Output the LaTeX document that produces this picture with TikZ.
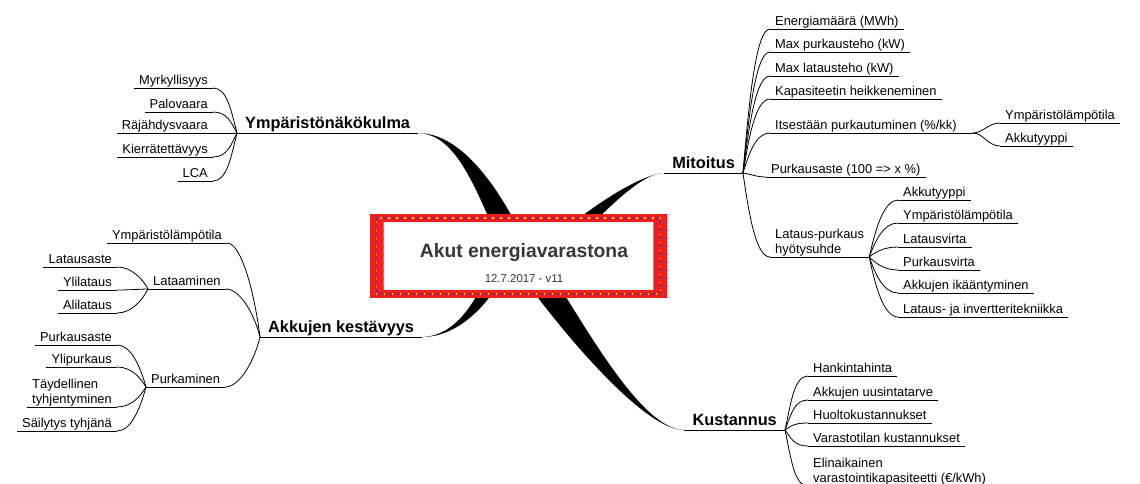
\documentclass[tikz,border=0pt]{standalone}
\usepackage{fontspec}
\setmainfont{Liberation Sans}
\usepackage{tikz}
\usetikzlibrary{calc}
\definecolor{boxred}{RGB}{242,30,30}
\definecolor{dotblue}{RGB}{80,60,150}
\definecolor{dotyellow}{RGB}{250,200,70}
\definecolor{boxgreen}{RGB}{110,180,60}
\definecolor{titlegray}{RGB}{55,55,55}
\tikzset{
  leaf/.style={font={\fontsize{12.9}{15.5}\selectfont}, inner xsep=5pt, inner ysep=0.6pt, text height=9.4pt, text depth=2.8pt},
  leaftwo/.style={font={\fontsize{12.9}{15.5}\selectfont}, inner xsep=5pt, inner ysep=0.6pt, align=left},
  topic/.style={font={\fontsize{16.3}{18}\selectfont\bfseries}, inner xsep=8pt, inner ysep=1pt, text height=11.8pt, text depth=3pt},
  uline/.style={line width=0.9pt},
  twig/.style={line width=0.8pt}}

\begin{document}
\begin{tikzpicture}[x=1pt,y=-1pt]
\useasboundingbox (0,0) rectangle (1140,484);
% main topics
\node[topic, anchor=south west] (ymp) at (237,133) {Ympäristönäkökulma};
\node[topic, anchor=south west] (akk) at (260,337) {Akkujen kestävyys};
\node[topic, anchor=south east] (mit) at (743,173) {Mitoitus};
\node[topic, anchor=south east] (kus) at (785,430) {Kustannus};
\draw[uline] (ymp.south west) -- (ymp.south east);
\draw[uline] (akk.south west) -- (akk.south east);
\draw[uline] (mit.south west) -- (mit.south east);
\draw[uline] (kus.south west) -- (kus.south east);
% tapered branches, ending under the centre box
\coordinate (yEnd) at (518,256);
\coordinate (mEnd) at (548,256);
\coordinate (aEnd) at (505,256);
\coordinate (kEnd) at (524,256);
\fill (ymp.south east) .. controls +(42,0) and +(-30,-70) .. ($(yEnd)+(13,0)$) -- ($(yEnd)+(-13,0)$) .. controls +(-30,-70) and +(38,1.5) .. (ymp.south east);
\fill (mit.south west) .. controls +(-25,0) and +(40,-40) .. ($(mEnd)+(12.5,0)$) -- ($(mEnd)+(-12.5,0)$) .. controls +(40,-40) and +(-27,1.5) .. (mit.south west);
\fill (akk.south east) .. controls +(35,0) and +(-22,50) .. ($(aEnd)+(8.6,0)$) -- ($(aEnd)+(-8.6,0)$) .. controls +(-22,50) and +(33,-1.5) .. (akk.south east);
\fill (kus.south west) .. controls +(-45,0) and +(40,60) .. ($(kEnd)+(16,0)$) -- ($(kEnd)+(-16,0)$) .. controls +(40,60) and +(-42,1.5) .. (kus.south west);
% centre box
\node[fill=boxred, minimum width=297pt, minimum height=84pt, inner sep=0pt] (ctr) at (518.5,256) {};
\fill[white] ($(ctr.north west)+(13,8)$) rectangle ($(ctr.south east)+(-13,-8)$);
\draw[boxgreen, line width=0.8pt] ($(ctr.north west)+(13.4,8)$) -- ($(ctr.south west)+(13.4,-8)$);
\draw[boxgreen, line width=0.8pt] ($(ctr.north east)+(-13.4,8)$) -- ($(ctr.south east)+(-13.4,-8)$);
\draw[dotblue, line width=1.5pt, dash pattern=on 2pt off 6pt] ($(ctr.north west)+(6.5,4)$) rectangle ($(ctr.south east)+(-6.5,-4)$);
\draw[dotyellow, line width=1.5pt, dash pattern=on 1.5pt off 6.5pt, dash phase=4pt] ($(ctr.north west)+(6.5,4)$) rectangle ($(ctr.south east)+(-6.5,-4)$);
\node[font={\fontsize{19.3}{22}\selectfont\bfseries}, text=titlegray] (title) at (524,253) {Akut energiavarastona};
\node[font={\fontsize{11.4}{13}\selectfont}, text=titlegray] (ver) at (524,279) {12.7.2017 - v11};
% Ympäristönäkökulma
\node[leaf, anchor=south east] (myrk) at (213,88) {Myrkyllisyys};
\node[leaf, anchor=south east] (palo) at (213,112) {Palovaara};
\node[leaf, anchor=south east] (raja) at (213,133) {Räjähdysvaara};
\node[leaf, anchor=south east] (kierr) at (213,157) {Kierrätettävyys};
\node[leaf, anchor=south east] (lca) at (213,181) {LCA};
\draw[uline] (myrk.south west) -- (myrk.south east);
\draw[uline] (palo.south west) -- (palo.south east);
\draw[uline] (raja.south west) -- (raja.south east);
\draw[uline] (kierr.south west) -- (kierr.south east);
\draw[uline] (lca.south west) -- (lca.south east);
\draw[twig] (ymp.south west) .. controls +(-6,-23) and +(14,0) .. (myrk.south east);
\draw[twig] (ymp.south west) .. controls +(-6,-11) and +(14,0) .. (palo.south east);
\draw[twig] (ymp.south west) -- (raja.south east);
\draw[twig] (ymp.south west) .. controls +(-6,12) and +(14,0) .. (kierr.south east);
\draw[twig] (ymp.south west) .. controls +(-6,24) and +(14,0) .. (lca.south east);
% Akkujen kestävyys
\node[leaf, anchor=south east] (ympL) at (227,243) {Ympäristölämpötila};
\node[leaf, anchor=south west] (lat) at (148,289) {Lataaminen};
\node[leaf, anchor=south west] (purk) at (146,387) {Purkaminen};
\draw[uline] (ympL.south west) -- (ympL.south east);
\draw[uline] (lat.south west) -- (lat.south east);
\draw[uline] (purk.south west) -- (purk.south east);
\draw[twig] (akk.south west) .. controls +(-6,-47) and +(14,0) .. (ympL.south east);
\draw[twig] (akk.south west) .. controls +(-6,-24) and +(14,0) .. (lat.south east);
\draw[twig] (akk.south west) .. controls +(-6,25) and +(14,0) .. (purk.south east);
\node[leaf, anchor=south east] (latA) at (117,267) {Latausaste};
\node[leaf, anchor=south east] (yli) at (117,290) {Ylilataus};
\node[leaf, anchor=south east] (ali) at (117,313) {Alilataus};
\draw[uline] (latA.south west) -- (latA.south east);
\draw[uline] (yli.south west) -- (yli.south east);
\draw[uline] (ali.south west) -- (ali.south east);
\draw[twig] (lat.south west) .. controls +(-6,-11) and +(14,0) .. (latA.south east);
\draw[twig] (lat.south west) .. controls +(-6,0) and +(14,0) .. (yli.south east);
\draw[twig] (lat.south west) .. controls +(-6,12) and +(14,0) .. (ali.south east);
\node[leaf, anchor=south east] (purkA) at (117,345) {Purkausaste};
\node[leaf, anchor=south east] (ylip) at (117,367) {Ylipurkaus};
\node[leaftwo, anchor=south east] (tayd) at (117,407) {Täydellinen\\tyhjentyminen};
\node[leaf, anchor=south east] (sail) at (117,431) {Säilytys tyhjänä};
\draw[uline] (purkA.south west) -- (purkA.south east);
\draw[uline] (ylip.south west) -- (ylip.south east);
\draw[uline] (tayd.south west) -- (tayd.south east);
\draw[uline] (sail.south west) -- (sail.south east);
\draw[twig] (purk.south west) .. controls +(-6,-21) and +(14,0) .. (purkA.south east);
\draw[twig] (purk.south west) .. controls +(-6,-10) and +(14,0) .. (ylip.south east);
\draw[twig] (purk.south west) .. controls +(-6,10) and +(14,0) .. (tayd.south east);
\draw[twig] (purk.south west) .. controls +(-6,22) and +(14,0) .. (sail.south east);
% Mitoitus
\node[leaf, anchor=south west] (ener) at (770,29) {Energiamäärä (MWh)};
\node[leaf, anchor=south west] (maxp) at (770,52) {Max purkausteho (kW)};
\node[leaf, anchor=south west] (maxl) at (770,76) {Max lataus­teho (kW)};
\node[leaf, anchor=south west] (kapa) at (770,99) {Kapasiteetin heikkeneminen};
\node[leaf, anchor=south west] (itse) at (770,133) {Itsestään purkautuminen (\%/kk)};
\coordinate (itseJ) at (973,133);
\node[leaf, anchor=south west] (purkM) at (766,177) {Purkausaste (100 => x \%)};
\node[leaftwo, anchor=south west] (lp) at (770,257) {Lataus-purkaus\\hyötysuhde};
\draw[uline] (ener.south west) -- (ener.south east);
\draw[uline] (maxp.south west) -- (maxp.south east);
\draw[uline] (maxl.south west) -- (maxl.south east);
\draw[uline] (kapa.south west) -- (kapa.south east);
\draw[uline] (itse.south west) -- (itseJ);
\draw[uline] (purkM.south west) -- (purkM.south east);
\draw[uline] (lp.south west) -- (lp.south east);
\draw[twig] (mit.south east) .. controls +(6,-72) and +(-14,0) .. (ener.south west);
\draw[twig] (mit.south east) .. controls +(6,-60) and +(-14,0) .. (maxp.south west);
\draw[twig] (mit.south east) .. controls +(6,-48) and +(-14,0) .. (maxl.south west);
\draw[twig] (mit.south east) .. controls +(6,-37) and +(-14,0) .. (kapa.south west);
\draw[twig] (mit.south east) .. controls +(6,-20) and +(-14,0) .. (itse.south west);
\draw[twig] (mit.south east) .. controls +(8,1) and +(-10,0) .. (purkM.south west);
\draw[twig] (mit.south east) .. controls +(6,42) and +(-14,0) .. (lp.south west);
\node[leaf, anchor=south west] (ympR) at (1000,123) {Ympäristölämpötila};
\node[leaf, anchor=south west] (akkR) at (1000,146) {Akkutyyppi};
\draw[uline] (ympR.south west) -- (ympR.south east);
\draw[uline] (akkR.south west) -- (akkR.south east);
\draw[twig] (itseJ) .. controls +(10,0) and +(-12,0) .. (ympR.south west);
\draw[twig] (itseJ) .. controls +(10,0) and +(-12,0) .. (akkR.south west);
\node[leaf, anchor=south west] (akkT) at (898,200) {Akkutyyppi};
\node[leaf, anchor=south west] (ympT) at (898,223) {Ympäristölämpötila};
\node[leaf, anchor=south west] (latv) at (898,247) {Latausvirta};
\node[leaf, anchor=south west] (purv) at (898,270) {Purkausvirta};
\node[leaf, anchor=south west] (ikaa) at (898,293) {Akkujen ikääntyminen};
\node[leaf, anchor=south west] (tekn) at (898,317) {Lataus- ja invertteritekniikka};
\draw[uline] (akkT.south west) -- (akkT.south east);
\draw[uline] (ympT.south west) -- (ympT.south east);
\draw[uline] (latv.south west) -- (latv.south east);
\draw[uline] (purv.south west) -- (purv.south east);
\draw[uline] (ikaa.south west) -- (ikaa.south east);
\draw[uline] (tekn.south west) -- (tekn.south east);
\draw[twig] (lp.south east) .. controls +(6,-28) and +(-14,0) .. (akkT.south west);
\draw[twig] (lp.south east) .. controls +(6,-17) and +(-14,0) .. (ympT.south west);
\draw[twig] (lp.south east) .. controls +(6,-5) and +(-14,0) .. (latv.south west);
\draw[twig] (lp.south east) .. controls +(6,6) and +(-14,0) .. (purv.south west);
\draw[twig] (lp.south east) .. controls +(6,18) and +(-14,0) .. (ikaa.south west);
\draw[twig] (lp.south east) .. controls +(6,30) and +(-14,0) .. (tekn.south west);
% Kustannus
\node[leaf, anchor=south west] (hank) at (808,376) {Hankintahinta};
\node[leaf, anchor=south west] (uusi) at (808,400) {Akkujen uusintatarve};
\node[leaf, anchor=south west] (huol) at (808,423) {Huoltokustannukset};
\node[leaf, anchor=south west] (vara) at (808,446) {Varastotilan kustannukset};
\node[leaftwo, anchor=south west] (elin) at (808,486) {Elinaikainen\\varastointikapasiteetti (€/kWh)};
\draw[uline] (hank.south west) -- (hank.south east);
\draw[uline] (uusi.south west) -- (uusi.south east);
\draw[uline] (huol.south west) -- (huol.south east);
\draw[uline] (vara.south west) -- (vara.south east);
\draw[uline] (elin.south west) -- (elin.south east);
\draw[twig] (kus.south east) .. controls +(6,-27) and +(-14,0) .. (hank.south west);
\draw[twig] (kus.south east) .. controls +(6,-15) and +(-14,0) .. (uusi.south west);
\draw[twig] (kus.south east) .. controls +(6,-4) and +(-14,0) .. (huol.south west);
\draw[twig] (kus.south east) .. controls +(6,8) and +(-14,0) .. (vara.south west);
\draw[twig] (kus.south east) .. controls +(6,28) and +(-14,0) .. (elin.south west);
\end{tikzpicture}
\end{document}
